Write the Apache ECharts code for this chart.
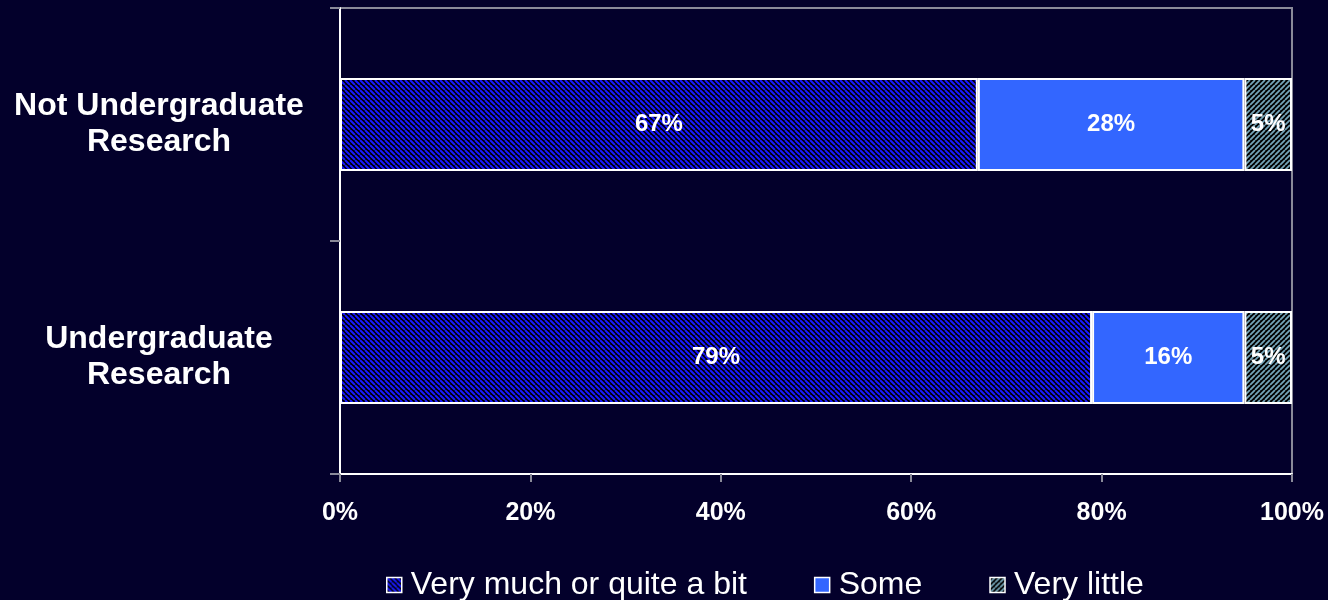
<!DOCTYPE html>
<html>
<head>
<meta charset="utf-8">
<script src="https://cdn.jsdelivr.net/npm/echarts@6/dist/echarts.min.js"></script>
<style>
html,body{margin:0;padding:0;background:#03002b;}
#chart{width:1328px;height:600px;}
</style>
</head>
<body>
<div id="chart"></div>
<script>
const categories = ['Not Undergraduate\nResearch', 'Undergraduate\nResearch'];
const seriesNames = ['Very much or quite a bit', 'Some', 'Very little'];
const veryMuch = [67, 79];
const some = [28, 16];
const veryLittle = [5, 5];
const xTicks = [0, 20, 40, 60, 80, 100];

function hatch(bg, fg, dir, size, lw) {
  const c = document.createElement('canvas');
  c.width = size; c.height = size;
  const g = c.getContext('2d');
  g.fillStyle = bg; g.fillRect(0, 0, size, size);
  g.strokeStyle = fg; g.lineWidth = lw;
  g.beginPath();
  if (dir === 'back') {
    for (let k = -1; k <= 1; k++) {
      g.moveTo(k * size, 0); g.lineTo(k * size + size, size);
    }
  } else {
    for (let k = -1; k <= 1; k++) {
      g.moveTo(k * size, size); g.lineTo(k * size + size, 0);
    }
  }
  g.stroke();
  return { image: c, repeat: 'repeat' };
}

const pat1 = hatch('#000000', '#1a1aff', 'back', 5, 2);
const pat3 = hatch('#000000', '#74a4b8', 'fwd', 5, 1.8);

const FF = 'Liberation Sans, Arial, sans-serif';
const chart = echarts.init(document.getElementById('chart'));
const labelStyle = { show: true, color: '#ffffff', fontWeight: 'bold', fontSize: 24, fontFamily: FF, formatter: p => p.value + '%' };
function mk(name, data, color) {
  return {
    name, type: 'bar', stack: 'all', data, barWidth: 93,
    itemStyle: { color, borderColor: '#ffffff', borderWidth: 2 },
    label: labelStyle
  };
}
chart.setOption({
  backgroundColor: '#03002b',
  animation: false,
  grid: { left: 340, right: 36, top: 8, bottom: 126, show: true, borderColor: '#8a8a99', borderWidth: 2, backgroundColor: 'transparent' },
  xAxis: {
    type: 'value', min: 0, max: 100, interval: 20,
    axisLine: { show: true, lineStyle: { color: '#ffffff', width: 2 } },
    axisTick: { show: true, length: 8, lineStyle: { color: '#8a8a99', width: 2 } },
    splitLine: { show: false },
    axisLabel: { color: '#ffffff', fontWeight: 'bold', fontSize: 25, fontFamily: FF, margin: 27, formatter: v => xTicks.includes(v) ? v + '%' : '' }
  },
  yAxis: {
    type: 'category', data: categories, inverse: true,
    axisLine: { show: true, lineStyle: { color: '#ffffff', width: 2 } },
    axisTick: { show: true, length: 10, lineStyle: { color: '#8a8a99', width: 2 } },
    axisLabel: { color: '#ffffff', fontWeight: 'bold', fontSize: 32, lineHeight: 36, align: 'center', margin: 181, padding: [8, 0, 0, 0], fontFamily: FF }
  },
  legend: {
    top: 564, left: 381, itemGap: 67, itemWidth: 15, itemHeight: 15,
    icon: 'rect',
    itemStyle: { borderColor: '#ffffff', borderWidth: 1.5 },
    textStyle: { color: '#ffffff', fontSize: 32, fontFamily: FF, padding: [0, 0, 0, 4] },
    data: seriesNames
  },
  series: [
    mk(seriesNames[0], veryMuch, pat1),
    mk(seriesNames[1], some, '#3366ff'),
    mk(seriesNames[2], veryLittle, pat3)
  ]
});
</script>
</body>
</html>
